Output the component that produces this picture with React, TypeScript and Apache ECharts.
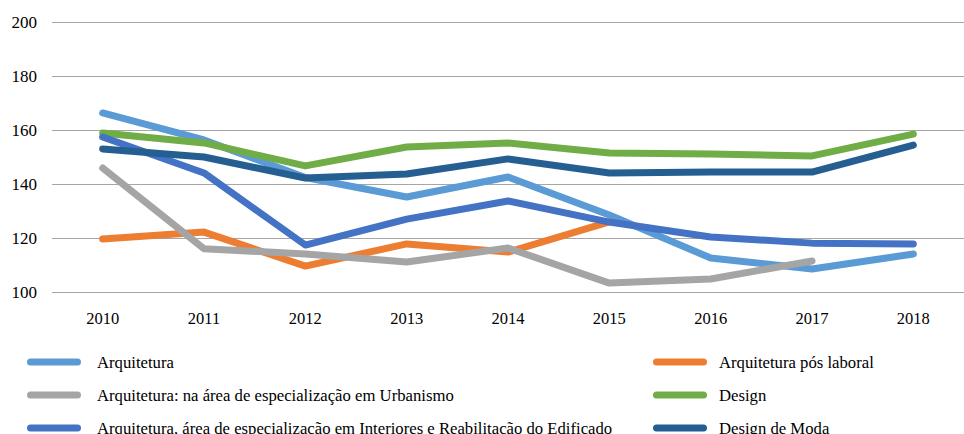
import React, { useEffect, useRef } from "react";
import * as echarts from "echarts";

const years = ["2010", "2011", "2012", "2013", "2014", "2015", "2016", "2017", "2018"];
const arquitetura = [166.3, 156.3, 142.4, 135.2, 142.6, 128.5, 112.6, 108.5, 114.1];
const posLaboral = [119.6, 122.2, 109.6, 117.8, 114.8, 126.0, null, null, null];
const urbanismo = [145.9, 116.0, 114.1, 111.1, 116.3, 103.3, 104.8, 111.5, null];
const design = [158.9, 155.2, 146.7, 153.7, 155.2, 151.5, 151.1, 150.4, 158.5];
const interiores = [157.4, 144.1, 117.4, 127.0, 133.7, 125.9, 120.4, 118.1, 117.8];
const moda = [153.0, 150.0, 142.2, 143.7, 149.3, 144.1, 144.4, 144.4, 154.4];

const names = [
  "Arquitetura",
  "Arquitetura pós laboral",
  "Arquitetura: na área de especialização em Urbanismo",
  "Design",
  "Arquitetura, área de especialização em Interiores e Reabilitação do Edificado",
  "Design de Moda",
];
const colors = ["#5B9BD5", "#ED7D31", "#A5A5A5", "#70AD47", "#4472C4", "#255E91"];
const values = [arquitetura, posLaboral, urbanismo, design, interiores, moda];

const FONT = "'Liberation Serif', 'Times New Roman', serif";
const pill = "path://M3.5,0 H50.5 A3.5,3.5 0 0 1 50.5,7 H3.5 A3.5,3.5 0 0 1 3.5,0 Z";

// legend placement: [left, rowCenterY, textPaddingLeft]
const legendPos: [number, number, number][] = [
  [27, 362, 11],
  [653, 362, 7],
  [27, 395, 11],
  [653, 395, 7],
  [27, 428, 11],
  [653, 428, 7],
];

export default function App() {
  const ref = useRef<HTMLDivElement>(null);
  useEffect(() => {
    if (!ref.current) return;
    const chart = echarts.init(ref.current, null, { renderer: "svg" });
    chart.setOption({
      animation: false,
      backgroundColor: "#ffffff",
      textStyle: { fontFamily: FONT },
      grid: { left: 52, right: -7, top: 22, bottom: 142 },
      xAxis: {
        type: "category",
        data: years,
        boundaryGap: true,
        axisLine: { show: false },
        axisTick: { show: false },
        axisLabel: { color: "#000", fontFamily: FONT, fontSize: 16.5, margin: 18 },
      },
      yAxis: {
        type: "value",
        min: 100,
        max: 200,
        interval: 20,
        axisLine: { show: false },
        axisTick: { show: false },
        axisLabel: { color: "#000", fontFamily: FONT, fontSize: 17, margin: 15 },
        splitLine: { lineStyle: { color: "#A6A6A6", width: 1 } },
      },
      legend: names.map((n, i) => ({
        orient: "horizontal",
        left: legendPos[i][0],
        top: legendPos[i][1] - 9,
        icon: pill,
        itemWidth: 54,
        itemHeight: 7,
        selectedMode: false,
        padding: 0,
        data: [n],
        textStyle: {
          color: "#000",
          fontFamily: FONT,
          fontSize: 16.7,
          lineHeight: 18,
          padding: [0, 0, 0, legendPos[i][2]],
        },
      })),
      series: names.map((n, i) => ({
        name: n,
        type: "line",
        data: values[i],
        color: colors[i],
        showSymbol: false,
        symbol: "none",
        connectNulls: false,
        lineStyle: { width: 7, color: colors[i], cap: "round", join: "round" },
      })),
    });
    return () => chart.dispose();
  }, []);
  return (
    <div
      ref={ref}
      style={{ position: "fixed", left: 0, top: 0, width: 964, height: 434, background: "#fff" }}
    />
  );
}
